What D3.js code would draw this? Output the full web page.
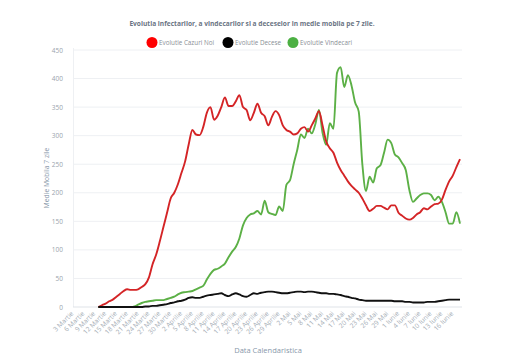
<!DOCTYPE html>
<html><head><meta charset="utf-8">
<script src="https://cdn.jsdelivr.net/npm/d3@7"></script>
<style>
html,body{margin:0;padding:0;background:#fff;}
svg{display:block;font-family:"Open Sans",sans-serif;}
</style></head>
<body><svg id="c" width="510" height="360"></svg>
<script>
const title = "Evolutia infectarilor, a vindecarilor si a deceselor in medie mobila pe 7 zile.";
const seriesNames = ["Evolutie Cazuri Noi", "Evolutie Decese", "Evolutie Vindecari"];
const yTicks = [0, 50, 100, 150, 200, 250, 300, 350, 400, 450];
const xTickLabels = ["3 Martie","6 Martie","9 Martie","12 Martie","15 Martie","18 Martie","21 Martie","24 Martie","27 Martie","30 Martie",
  "2 Aprilie","5 Aprilie","8 Aprilie","11 Aprilie","14 Aprilie","17 Aprilie","20 Aprilie","23 Aprilie","26 Aprilie","29 Aprilie",
  "2 Mai","5 Mai","8 Mai","11 Mai","14 Mai","17 Mai","20 Mai","23 Mai","26 Mai","29 Mai",
  "1 Iunie","4 Iunie","7 Iunie","10 Iunie","13 Iunie","16 Iunie"];
const axisStart = "2020-03-03", axisEnd = "2020-06-18", dataStart = "2020-03-10";
// daily 7-day moving averages from 10 March to 18 June
const cazuri = [0,3,6,10,13,18,23,28,31,30,30,31,35,40,52,75,92,115,140,165,190,200,215,235,255,285,310,302,301,315,
  340,350,328,335,350,367,352,352,360,371,350,345,327,340,356,340,334,318,333,343,336,318,310,307,302,304,312,315,307,318,
  330,343,318,290,278,270,253,240,230,220,212,206,200,190,178,168,172,177,177,174,171,178,178,165,160,155,153,156,162,166,
  173,171,176,180,181,188,205,220,230,245,259];
const decese = [0,0,0,0,0,0,0,0,0,0,0,0,0,1,1,2,2,3,4,5,7,8,10,11,13,16,17,16,16,18,
  20,21,22,23,24,21,19,22,24,22,19,18,21,24,23,25,26,27,27,26,25,24,24,25,26,27,27,26,27,27,
  26,25,24,24,23,23,22,21,19,18,16,15,13,12,11,11,11,11,11,11,11,11,10,10,10,9,9,8,8,8,
  8,9,9,9,10,11,12,13,13,13,13];
const vindecari = [0,0,0,0,0,0,0,0,0,0,1,4,7,9,10,11,12,12,12,14,16,18,22,25,26,27,28,31,34,37,
  48,58,65,67,71,76,87,97,105,120,143,156,162,164,168,162,186,166,163,161,176,168,214,222,250,275,302,296,312,304,
  320,345,305,284,322,312,410,420,385,406,388,358,342,250,203,228,218,243,248,270,293,287,267,262,252,240,205,184,190,196,
  199,199,196,187,193,184,166,146,146,166,146];
const colors = ["#d42426", "#111111", "#5cb046"];
const legendColors = ["#ff0000", "#000000", "#4cb043"];

const svg = d3.select("#c");
const parse = d3.utcParse("%Y-%m-%d");
const t0 = parse(axisStart), t1 = parse(axisEnd), d0 = parse(dataStart);
const x = d3.scaleUtc().domain([t0, t1]).range([73, 460]);
const y = d3.scaleLinear().domain([0, 450]).range([307, 50]);

// grid
svg.append("g").selectAll("line").data(yTicks.filter(v => v > 0)).join("line")
  .attr("x1", 73).attr("x2", 462).attr("y1", d => y(d)).attr("y2", d => y(d))
  .attr("stroke", "#eef0f3").attr("stroke-width", 1);
svg.append("line").attr("x1", 73.5).attr("x2", 73.5).attr("y1", 48).attr("y2", 307)
  .attr("stroke", "#eef0f3");
svg.append("line").attr("x1", 73).attr("x2", 462).attr("y1", y(0)).attr("y2", y(0))
  .attr("stroke", "#dfe3e8");

// y labels
svg.append("g").selectAll("text").data(yTicks).join("text")
  .attr("x", 63).attr("y", d => y(d) + 2.5).attr("text-anchor", "end")
  .attr("font-size", 6.5).attr("fill", "#9aa3ad").text(d => d);

// x ticks
const tickDates = d3.utcDays(t0, d3.utcDay.offset(t0, 3 * xTickLabels.length), 3);
const xg = svg.append("g");
xg.selectAll("text").data(tickDates).join("text")
  .attr("transform", d => `translate(${x(d) + 1},${314}) rotate(-45)`)
  .attr("text-anchor", "end").attr("font-size", 6.6).attr("fill", "#a3abb4")
  .text((d, i) => xTickLabels[i]);

// lines
const dates = cazuri.map((_, i) => d3.utcDay.offset(d0, i));
const line = d3.line().x((d, i) => x(dates[i])).y(d => y(d)).curve(d3.curveMonotoneX);
const allSeries = [cazuri, decese, vindecari];
const order = [2, 0, 1];
order.forEach(k => {
  svg.append("path").attr("d", line(allSeries[k])).attr("fill", "none")
    .attr("stroke", colors[k]).attr("stroke-width", 1.9).attr("stroke-linejoin", "round");
});

// title
svg.append("text").attr("x", 252).attr("y", 26).attr("text-anchor", "middle")
  .attr("font-size", 6.6).attr("font-weight", "bold").attr("fill", "#6b7584").text(title);

// legend
const legendX = [152, 228, 293];
const lg = svg.append("g");
seriesNames.forEach((n, i) => {
  lg.append("circle").attr("cx", legendX[i]).attr("cy", 42.5).attr("r", 5.5).attr("fill", legendColors[i]);
  lg.append("text").attr("x", legendX[i] + 7).attr("y", 45).attr("font-size", 6.3)
    .attr("fill", "#8a8f96").text(n);
});

// axis titles
svg.append("text").attr("transform", "translate(49,178) rotate(-90)").attr("text-anchor", "middle")
  .attr("font-size", 6.8).attr("fill", "#8898aa").text("Medie Mobila 7 zile");
svg.append("text").attr("x", 268).attr("y", 353).attr("text-anchor", "middle")
  .attr("font-size", 7.5).attr("fill", "#8898aa").text("Data Calendaristica");
</script></body></html>
